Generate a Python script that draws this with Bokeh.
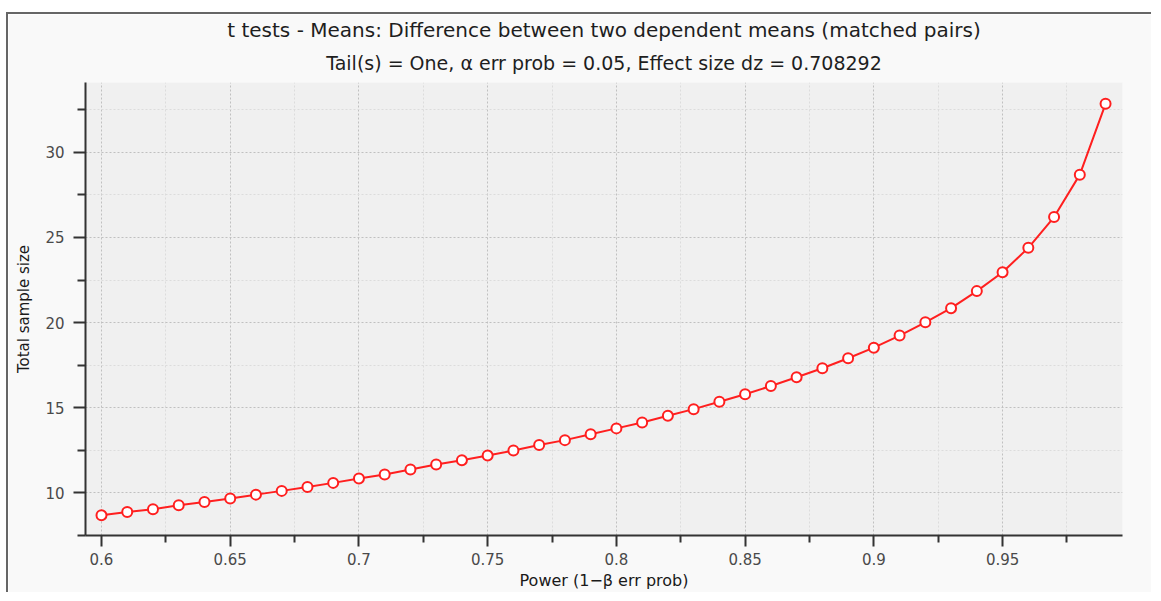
from bokeh.plotting import figure
from bokeh.models import FixedTicker, NumeralTickFormatter, Range1d, Title
from bokeh.embed import file_html
from bokeh.resources import INLINE

power = [0.60, 0.61, 0.62, 0.63, 0.64, 0.65, 0.66, 0.67, 0.68, 0.69,
         0.70, 0.71, 0.72, 0.73, 0.74, 0.75, 0.76, 0.77, 0.78, 0.79,
         0.80, 0.81, 0.82, 0.83, 0.84, 0.85, 0.86, 0.87, 0.88, 0.89,
         0.90, 0.91, 0.92, 0.93, 0.94, 0.95, 0.96, 0.97, 0.98, 0.99]
sample_size = [8.69, 8.88, 9.04, 9.28, 9.47, 9.67, 9.90, 10.12, 10.35, 10.59,
               10.85, 11.08, 11.38, 11.67, 11.92, 12.20, 12.49, 12.81, 13.10, 13.45,
               13.79, 14.14, 14.53, 14.92, 15.35, 15.79, 16.28, 16.79, 17.32, 17.91,
               18.53, 19.24, 20.02, 20.85, 21.85, 22.96, 24.39, 26.20, 28.69, 32.85]

x_major_ticks = [0.6, 0.65, 0.7, 0.75, 0.8, 0.85, 0.9, 0.95]
x_minor_ticks = [0.625, 0.675, 0.725, 0.775, 0.825, 0.875, 0.925, 0.975]
y_major_ticks = [10, 15, 20, 25, 30]
y_minor_ticks = [7.5, 12.5, 17.5, 22.5, 27.5, 32.5]

title_main = "t tests - Means: Difference between two dependent means (matched pairs)"
title_sub = "Tail(s) = One, \u03b1 err prob = 0.05, Effect size dz = 0.708292"
x_label = "Power (1\u2212\u03b2 err prob)"
y_label = "Total sample size"

FONT = "DejaVu Sans"

p = figure(width=1145, height=580, output_backend="svg", toolbar_location=None,
           x_range=Range1d(0.59379, 0.99658), y_range=Range1d(7.5, 34.1),
           min_border_left=77, min_border_right=31, min_border_top=68, min_border_bottom=59)
p.styles = {"margin-top": "12px", "margin-left": "6px",
            "border-top": "2px solid #666666", "border-left": "2px solid #666666"}

p.title.text = title_main
p.title.align = "center"
p.title.text_font = FONT
p.title.text_font_size = "20px"
p.title.text_font_style = "normal"
p.title.text_color = "#1e1e1e"
p.title.standoff = 0
p.add_layout(Title(text=title_sub, align="center", text_font=FONT, text_font_size="19px",
                   text_font_style="normal", text_color="#1e1e1e", standoff=17), "above")

p.border_fill_color = "#f9f9f9"
p.background_fill_color = "#f0f0f0"
p.outline_line_color = None

for ax in (p.xaxis[0], p.yaxis[0]):
    ax.axis_line_color = "#333333"
    ax.axis_line_width = 2
    ax.major_tick_line_color = "#333333"
    ax.major_tick_line_width = 2
    ax.minor_tick_line_color = "#333333"
    ax.minor_tick_line_width = 2
    ax.major_tick_in = 0
    ax.minor_tick_in = 0
    ax.major_label_text_font = FONT
    ax.major_label_text_font_size = "15px"
    ax.major_label_text_color = "#4a4a4a"
    ax.axis_label_text_font = FONT
    ax.axis_label_text_font_style = "normal"
    ax.axis_label_text_color = "#1a1a1a"

p.xaxis.ticker = FixedTicker(ticks=x_major_ticks, minor_ticks=x_minor_ticks)
p.yaxis.ticker = FixedTicker(ticks=y_major_ticks, minor_ticks=y_minor_ticks)
p.xaxis.formatter = NumeralTickFormatter(format="0.[00]")
p.yaxis.formatter = NumeralTickFormatter(format="0")
p.xaxis.major_tick_out = 11
p.xaxis.minor_tick_out = 7
p.yaxis.major_tick_out = 12
p.yaxis.minor_tick_out = 8
p.xaxis.major_label_standoff = 6
p.yaxis.major_label_standoff = 9
p.xaxis.axis_label = x_label
p.yaxis.axis_label = y_label
p.xaxis.axis_label_text_font_size = "16px"
p.yaxis.axis_label_text_font_size = "15px"
p.xaxis.axis_label_standoff = 3
p.yaxis.axis_label_standoff = 9

for g in (p.xgrid[0], p.ygrid[0]):
    g.grid_line_color = "#c0c0c0"
    g.grid_line_dash = "2 2"
    g.grid_line_width = 1
    g.minor_grid_line_color = "#dcdcdc"
    g.minor_grid_line_dash = "2 2"
    g.minor_grid_line_width = 1

p.line(power, sample_size, line_color="#ff1f1f", line_width=2)
p.scatter(power, sample_size, marker="circle", size=10, fill_color="white",
          line_color="#ff1f1f", line_width=2)

open("out.html", "w").write(file_html(p, INLINE))
